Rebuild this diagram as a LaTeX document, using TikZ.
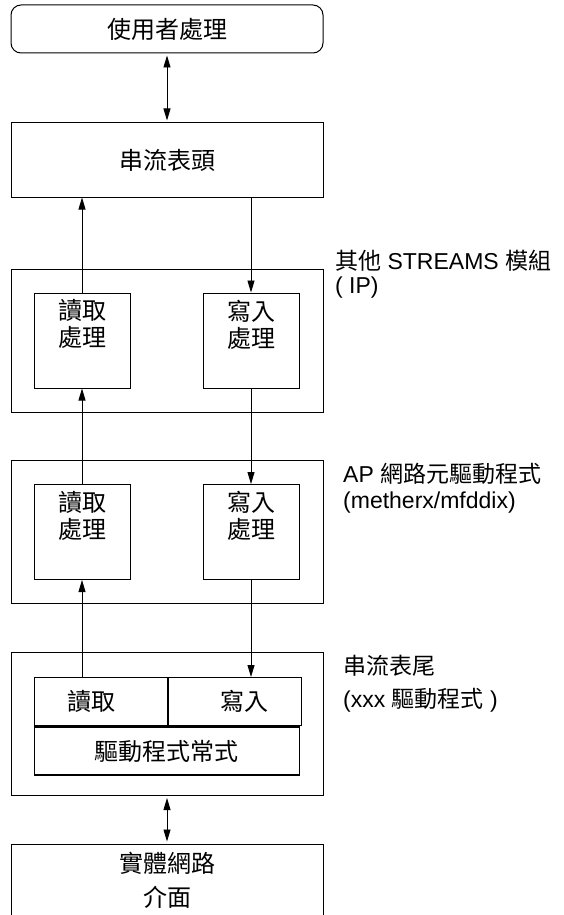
\documentclass[tikz,border=0pt]{standalone}
\usepackage{fontspec}
\setmainfont{Liberation Sans}
\newfontfamily\zhfont{Noto Sans CJK TC}
\newcommand{\zh}[1]{{\zhfont #1}}
\usetikzlibrary{positioning}
\usetikzlibrary{arrows.meta}

\tikzset{
  box/.style={draw, line width=1pt, minimum width=312pt, inner sep=0pt,
    align=center, font=\zhfont\fontsize{24}{34}\selectfont},
  modbox/.style={draw, line width=1pt, minimum width=312pt, minimum height=143pt, inner sep=0pt},
  procbox/.style={draw, line width=1pt, minimum width=96pt, minimum height=95pt, inner sep=0pt},
  proctxt/.style={inner sep=0pt, align=center, font=\zhfont\fontsize{24}{27}\selectfont},
  cellbox/.style={draw, line width=1.4pt, minimum height=48pt, inner ysep=0pt,
    inner xsep=33pt, text width=67pt, font=\zhfont\fontsize{24}{28}\selectfont},
  lbl/.style={inner sep=0pt, align=left, anchor=north west, font=\fontsize{23}{24}\selectfont},
  arr/.style={-{Triangle[length=12pt,width=7pt]}, line width=0.9pt},
  dblarr/.style={{Triangle[length=12pt,width=7pt]}-{Triangle[length=12pt,width=7pt]},
    line width=0.9pt, shorten <=2pt, shorten >=2pt}
}

\begin{document}
\begin{tikzpicture}[x=1pt,y=-1pt]
\useasboundingbox (0,0) rectangle (563,915);

% user side and stream head
\node[box, rounded corners=10pt, minimum height=48pt] (user) at (167,29) {使用者處理};
\node[box, minimum height=74pt] (head) at (167,160) {串流表頭};

% modules
\node[modbox] (mod1) at (167,340.5) {};
\node[procbox, right=23pt of mod1.west] (rd1) {};
\node[procbox, left=24pt of mod1.east] (wr1) {};
\node[proctxt, below=7pt of rd1.north] (rd1t) {讀取\\處理};
\node[proctxt, below=7pt of wr1.north] (wr1t) {寫入\\處理};
\node[lbl] (lbl1) at (335,250) {\zh{其他} STREAMS \zh{模組}\\( IP)};

\node[modbox] (mod2) at (167,532) {};
\node[procbox, right=23pt of mod2.west] (rd2) {};
\node[procbox, left=24pt of mod2.east] (wr2) {};
\node[proctxt, below=7pt of rd2.north] (rd2t) {讀取\\處理};
\node[proctxt, below=7pt of wr2.north] (wr2t) {寫入\\處理};
\node[lbl] (lbl2) at (343,463) {AP \zh{網路元驅動程式}\\[2pt](metherx/mfddix)};

% stream tail
\node[modbox] (mod3) at (167,724) {};
\node[cellbox, align=left, below right=25pt and 23pt of mod3.north west] (rdc) {讀取};
\node[cellbox, align=right, right=0pt of rdc] (wrc) {寫入};
\node[draw, line width=1.4pt, minimum width=265pt, minimum height=48pt, inner sep=0pt,
  font=\zhfont\fontsize{24}{28}\selectfont, anchor=north west] (rtn) at (rdc.south west) {驅動程式常式};
\node[lbl] (lbl3) at (343,655) {\zh{串流表尾}\\[9pt](xxx \zh{驅動程式} )};

% hardware
\node[box, minimum height=72pt] (phys) at (167,880) {實體網路\\介面};

\draw[dblarr] (user) -- (head);
\draw[arr] (rd1.north) -- (rd1.north |- head.south);
\draw[arr] (wr1.north |- head.south) -- (wr1.north);
\draw[arr] (rd2.north) -- (rd1.south);
\draw[arr] (wr1.south) -- (wr2.north);
\draw[arr] (rd2.south |- rdc.north) -- (rd2.south);
\draw[arr] (wr2.south) -- (wr2.south |- wrc.north);
\draw[dblarr] (mod3) -- (phys);
\end{tikzpicture}
\end{document}
